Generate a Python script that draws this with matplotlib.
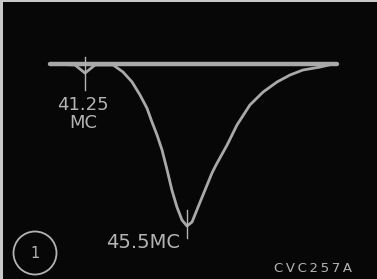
import matplotlib
matplotlib.use("Agg")
import matplotlib.pyplot as plt
from matplotlib.patches import Rectangle, Ellipse

# Sweep response trace (frequency in MC, relative response)
freq = [39.77, 40.81, 41.23, 41.65, 42.06, 42.40, 42.81, 43.19, 43.52, 43.81,
        44.02, 44.23, 44.44, 44.65, 44.85, 45.06, 45.27, 45.48, 45.69, 45.94,
        46.23, 46.52, 46.69, 47.15, 47.56, 48.10, 48.65, 49.23, 49.77, 50.31,
        51.02, 51.56, 51.73]
resp = [0.0, -0.006, -0.056, -0.006, -0.006, -0.006, -0.049, -0.111, -0.191, -0.272,
        -0.358, -0.438, -0.531, -0.654, -0.778, -0.883, -0.963, -1.0, -0.975, -0.883,
        -0.778, -0.673, -0.623, -0.5, -0.377, -0.253, -0.173, -0.111, -0.068, -0.037,
        -0.019, 0.0, 0.0]
# Zero-reference retrace
base_freq = [39.77, 51.73]
base_resp = [0.0, 0.0]
# Marker frequencies
marker_freq = [41.25, 45.5]
marker_labels = ["41.25\nMC", "45.5MC"]

bg = "#070707"
trace = "#a9a9a9"
txt = "#b4b4b4"
W, H = 377, 279

fig = plt.figure(figsize=(3.77, 2.79), dpi=100, facecolor=bg)
ax = fig.add_axes([0, 0, 1, 1], facecolor=bg)
ax.set_xlim(37.6875, 53.396)
ax.set_ylim(-1.327, 0.395)
ax.axis("off")

ax.plot(base_freq, base_resp, color=trace, lw=3.2, solid_capstyle="round", zorder=3)
ax.plot(freq, resp, color=trace, lw=2.0, solid_capstyle="round",
        solid_joinstyle="round", zorder=3)

# marker pips
ax.plot([marker_freq[0]] * 2, [0.043, -0.160], color=txt, lw=1.0, zorder=4)
ax.plot([marker_freq[1]] * 2, [-0.901, -1.074], color=txt, lw=1.0, zorder=4)

ax.text(41.15, -0.306, marker_labels[0], color=txt, fontsize=13,
        family="DejaVu Sans", ha="center", va="center", linespacing=1.0)
ax.text(45.19, -1.099, marker_labels[1], color=txt, fontsize=14,
        family="DejaVu Sans", ha="right", va="center")

# figure annotations
cx, cy, r = 35 / W, 1 - 253 / H, 21.5
fig.add_artist(Ellipse((cx, cy), 2 * r / W, 2 * r / H,
                       transform=fig.transFigure, fill=False, ec=txt, lw=1.3))
fig.text(cx, cy, "1", color=txt, fontsize=10.5,
         family="DejaVu Sans", ha="center", va="center")
fig.text(313 / W, 1 - 268 / H, "\u2009".join("CVC257A"),
         color=txt, fontsize=9.5, family="DejaVu Sans", ha="center", va="center")

# photo frame edges
fig.add_artist(Rectangle((0, 0), 3 / W, 1, transform=fig.transFigure,
                         color="#c9c9c9", lw=0))
fig.add_artist(Rectangle((0, 1 - 2 / H), 1, 2 / H, transform=fig.transFigure,
                         color="#c9c9c9", lw=0))

fig.savefig("out.png", dpi=100, facecolor=bg)
